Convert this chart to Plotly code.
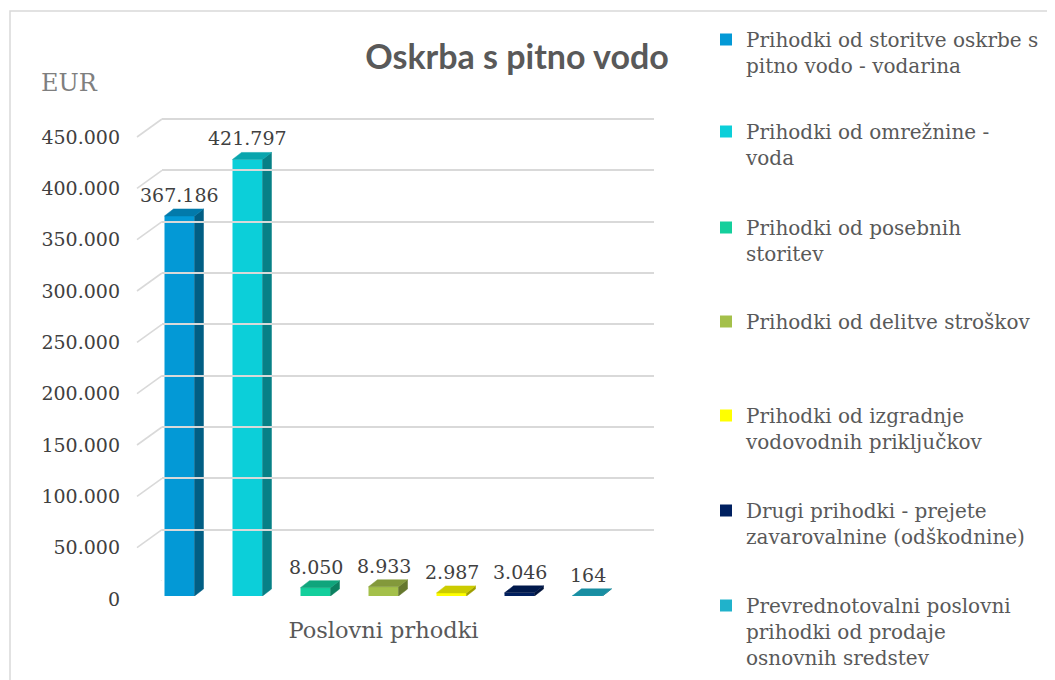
import plotly.graph_objects as go

# ---------------- data ----------------
TITLE = "Oskrba s pitno vodo"
UNIT = "EUR"
CATEGORY = "Poslovni prhodki"
SERIES = [
    "Prihodki od storitve oskrbe s<br>pitno vodo - vodarina",
    "Prihodki od omrežnine -<br>voda",
    "Prihodki od posebnih<br>storitev",
    "Prihodki od delitve stroškov",
    "Prihodki od izgradnje<br>vodovodnih priključkov",
    "Drugi prihodki - prejete<br>zavarovalnine (odškodnine)",
    "Prevrednotovalni poslovni<br>prihodki od prodaje<br>osnovnih sredstev",
]
VALUES = [367186, 421797, 8050, 8933, 2987, 3046, 164]
COLORS = ["#0399D6", "#0CCFD9", "#14CF9C", "#A4C04A", "#FFFF00", "#002060", "#20B2CB"]
TICK_VALUES = [0, 50000, 100000, 150000, 200000, 250000, 300000, 350000, 400000, 450000]

# ---------------- layout geometry (page pixels) ----------------
PAGE_W, PAGE_H = 1055, 680
OFF = 8  # default page body margin
W, H = PAGE_W - OFF, PAGE_H - OFF
MB = 40  # reserved bottom margin (room for the last legend)
PLOT_L, PLOT_R, PLOT_TOP = 137, 628, 70
BAR_C0, BAR_STEP, BAR_W = 179.5, 68.0, 30.0
DEPTH_DX, DEPTH_DY = 9.0, 7.0
BAR_BASE, BAR_SCALE = 596.0, 1.035 / 1000.0
FRONT_BASE, FRONT_SCALE = 599.0, 1.0267 / 1000.0
BACK_DX, BACK_DY, BACK_R = 25.0, 18.0, 654.0
LEGEND_X = 706
LEGEND_TOPS = [20, 112, 208, 302, 396, 491, 586]

SERIF = "DejaVu Serif"


def px_x(p):
    return (p - OFF) / W


def px_y(p):
    return 1 - (p - OFF) / (H - MB)


def shade(hexcol, f):
    h = hexcol.lstrip("#")
    r, g, b = (int(h[k:k + 2], 16) for k in (0, 2, 4))
    return "#%02x%02x%02x" % (int(r * f), int(g * f), int(b * f))


def fmt(v):
    return f"{v:,}".replace(",", ".")


fig = go.Figure()

hw = BAR_W / 2 / BAR_STEP
dx = DEPTH_DX / BAR_STEP
dy = DEPTH_DY / BAR_SCALE

# holders so that the back wall and the front value axis are drawn
fig.add_trace(go.Scatter(x=[None], y=[None], xaxis="x2", yaxis="y2",
                         showlegend=False, hoverinfo="skip"))
fig.add_trace(go.Scatter(x=[None], y=[None], xaxis="x", yaxis="y3",
                         showlegend=False, hoverinfo="skip"))

for i, (name, v, c) in enumerate(zip(SERIES, VALUES, COLORS)):
    lg = "legend" if i == 0 else f"legend{i + 1}"
    fig.add_trace(go.Bar(x=[i], y=[v], width=2 * hw, name=name, legend=lg,
                         marker=dict(color=c, line=dict(width=0)),
                         hoverinfo="name+y"))
    side_c = shade(c, 0.62)
    top_c = shade(c, 0.80)
    fig.add_trace(go.Scatter(
        x=[i + hw, i + hw + dx, i + hw + dx, i + hw, i + hw],
        y=[0, dy, v + dy, v, 0], fill="toself", mode="lines",
        line=dict(color=side_c, width=0.5), fillcolor=side_c,
        showlegend=False, hoverinfo="skip"))
    fig.add_trace(go.Scatter(
        x=[i - hw, i + hw, i + hw + dx, i - hw + dx, i - hw],
        y=[v, v, v + dy, v + dy, v], fill="toself", mode="lines",
        line=dict(color=top_c, width=0.5), fillcolor=top_c,
        showlegend=False, hoverinfo="skip"))
    fig.add_annotation(x=i, y=v, text=fmt(v), showarrow=False,
                       yanchor="bottom", yshift=8,
                       font=dict(family=SERIF, size=19, color="#404040"))

rng_front = (FRONT_BASE - PLOT_TOP) / FRONT_SCALE

# diagonal connectors of the 3D wall
for tv in TICK_VALUES:
    fig.add_shape(type="line", xref="paper", yref="y2",
                  x0=px_x(PLOT_L), y0=tv - BACK_DY / FRONT_SCALE,
                  x1=px_x(PLOT_L + BACK_DX), y1=tv,
                  line=dict(color="#d9d9d9", width=1.6), layer="below")

# outer frame
fig.add_shape(type="rect", xref="paper", yref="paper",
              x0=px_x(10), y0=px_y(11), x1=px_x(1080), y1=px_y(720),
              line=dict(color="#d9d9d9", width=1.5), layer="below")

fig.add_annotation(xref="paper", yref="paper", x=px_x(39), y=px_y(83),
                   xanchor="left", yanchor="middle", text=UNIT, showarrow=False,
                   font=dict(family=SERIF, size=24, color="#7f7f7f"))

layout = dict(
    width=W, height=H,
    margin=dict(l=0, r=0, t=0, b=MB, pad=0),
    paper_bgcolor="white", plot_bgcolor="rgba(0,0,0,0)",
    separators=",.",
    barmode="overlay",
    title=dict(text=TITLE, x=px_x(517), y=1 - (57 - OFF) / H, xanchor="center",
               yanchor="middle",
               font=dict(family="Lato", size=34, color="#595959", weight="bold")),
    xaxis=dict(domain=[px_x(PLOT_L), px_x(PLOT_R)],
               range=[(PLOT_L - BAR_C0) / BAR_STEP, (PLOT_R - BAR_C0) / BAR_STEP],
               tickvals=[(len(VALUES) - 1) / 2], ticktext=[CATEGORY],
               showgrid=False, zeroline=False, showline=False, ticks="",
               ticklabelstandoff=18,
               tickfont=dict(family=SERIF, size=22.5, color="#595959")),
    yaxis=dict(domain=[px_y(BAR_BASE), px_y(PLOT_TOP)],
               range=[0, (BAR_BASE - PLOT_TOP) / BAR_SCALE],
               showgrid=False, zeroline=False, showline=False,
               showticklabels=False, ticks=""),
    xaxis2=dict(domain=[px_x(PLOT_L + BACK_DX), px_x(BACK_R)], range=[0, 1],
                anchor="y2", visible=False),
    yaxis2=dict(domain=[px_y(FRONT_BASE - BACK_DY), px_y(PLOT_TOP - BACK_DY)],
                range=[0, rng_front], anchor="x2",
                tickvals=TICK_VALUES, showgrid=True, gridcolor="#d9d9d9", gridwidth=1.6,
                zeroline=False, showline=False, showticklabels=False, ticks=""),
    yaxis3=dict(domain=[px_y(FRONT_BASE), px_y(PLOT_TOP)],
                range=[0, rng_front], anchor="x",
                tickvals=TICK_VALUES, tickformat=",d",
                showgrid=False, zeroline=False, showline=False, ticks="",
                ticklabelstandoff=16,
                tickfont=dict(family=SERIF, size=19, color="#404040")),
    hovermode="closest",
)
for k, top in enumerate(LEGEND_TOPS):
    key = "legend" if k == 0 else f"legend{k + 1}"
    layout[key] = dict(x=px_x(LEGEND_X), y=px_y(top), xanchor="left", yanchor="top",
                       bgcolor="rgba(0,0,0,0)", valign="top", tracegroupgap=0,
                       font=dict(family=SERIF, size=20, color="#595959"))
fig.update_layout(**layout)

fig.write_html("out.html")
